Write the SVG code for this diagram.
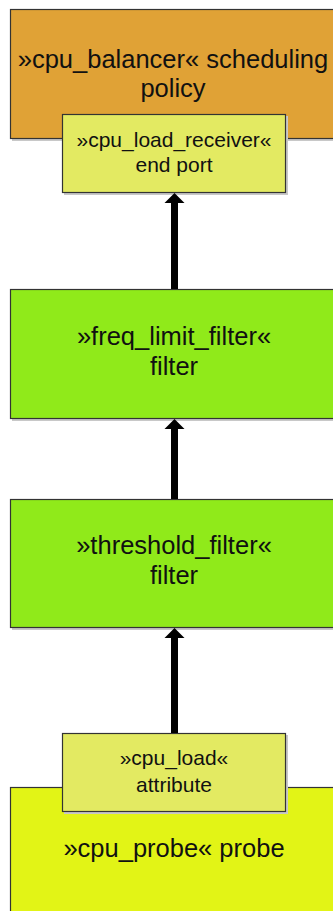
<svg xmlns="http://www.w3.org/2000/svg" width="333" height="911" viewBox="0 0 333 911">
<style>
.box{stroke:#333;stroke-width:1.2}
.sh{fill:#c8c8c8}
.t{font-family:"Liberation Sans",Arial,sans-serif;fill:#111;text-anchor:middle}
.big{font-size:25.5px}
.small{font-size:21px}
</style>
<rect width="333" height="911" fill="#fff"/>
<g id="cpu_balancer">
<rect class="sh" x="12" y="11" width="330" height="130"/>
<rect class="box" x="10.5" y="9.5" width="330" height="129" fill="#E0A236"/>
<text class="t big" x="173" y="68">»cpu_balancer« scheduling</text>
<text class="t big" x="173" y="97">policy</text>
</g>
<g id="cpu_load_receiver">
<rect class="sh" x="64" y="116" width="224" height="79"/>
<rect class="box" x="62.5" y="114.5" width="223" height="78" fill="#E3EA62"/>
<text class="t small" x="174" y="147">»cpu_load_receiver«</text>
<text class="t small" x="174" y="172">end port</text>
</g>
<g id="freq_limit_filter">
<rect class="sh" x="12" y="291" width="330" height="130"/>
<rect class="box" x="10.5" y="289.5" width="330" height="129" fill="#90EA1A"/>
<text class="t big" x="174" y="345">»freq_limit_filter«</text>
<text class="t big" x="174" y="375">filter</text>
</g>
<g id="threshold_filter">
<rect class="sh" x="12" y="501" width="330" height="129"/>
<rect class="box" x="10.5" y="499.5" width="330" height="128" fill="#90EA1A"/>
<text class="t big" x="174" y="554">»threshold_filter«</text>
<text class="t big" x="174" y="584">filter</text>
</g>
<g id="cpu_probe">
<rect class="sh" x="12" y="789" width="330" height="130"/>
<rect class="box" x="10.5" y="787.5" width="330" height="130" fill="#E2F416"/>
<text class="t big" x="174" y="857">»cpu_probe« probe</text>
</g>
<g id="cpu_load">
<rect class="sh" x="64" y="735" width="224" height="79"/>
<rect class="box" x="62.5" y="733.5" width="223" height="78" fill="#E3EA62"/>
<text class="t small" x="174" y="765">»cpu_load«</text>
<text class="t small" x="174" y="792">attribute</text>
</g>
<g id="connectors" stroke="#000" stroke-width="7">
<line x1="174.5" y1="289" x2="174.5" y2="202"/>
<path d="M174.5,193 L184.5,203 L164.5,203 Z" fill="#000" stroke="none"/>
<line x1="174.5" y1="499" x2="174.5" y2="428"/>
<path d="M174.5,419 L184.5,429 L164.5,429 Z" fill="#000" stroke="none"/>
<line x1="174.5" y1="733" x2="174.5" y2="638"/>
<path d="M174.5,628 L184.5,638 L164.5,638 Z" fill="#000" stroke="none"/>
</g>
</svg>
